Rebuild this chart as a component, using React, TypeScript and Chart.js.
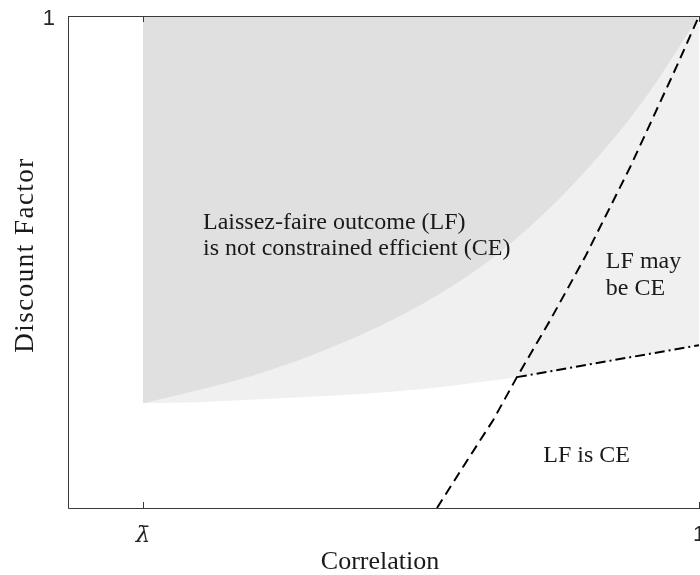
import React, { useEffect, useRef } from "react";
import { Chart, registerables } from "chart.js";

Chart.register(...registerables);

// ---- data (normalised axis units: lambda-bar = 0.2, right end = 1) ----
const LAMBDA_BAR = 0.2;
const X_TICKS = [LAMBDA_BAR, 1];
const X_TICK_LABELS = ["λ̄", "1"];
const Y_TICKS = [1];
const Y_TICK_LABELS = ["1"];

// upper boundary of the dark region (LF not CE)
const darkX = [0.2, 0.28, 0.36, 0.44, 0.52, 0.6, 0.68, 0.76, 0.84, 0.92, 1.0];
const darkY = [0.213, 0.24, 0.27, 0.309, 0.356, 0.413, 0.484, 0.576, 0.69, 0.828, 1.0];

// lower boundary of the light region (before kink)
const lightX = [0.2, 0.282, 0.354, 0.469, 0.57, 0.642, 0.685, 0.738];
const lightY = [0.213, 0.215, 0.22, 0.228, 0.238, 0.248, 0.256, 0.266];

// dash-dot boundary after kink
const dashDotX = [0.738, 1.0];
const dashDotY = [0.266, 0.331];

// dashed curve
const dashX = [0.623, 0.663, 0.704, 0.738, 0.786, 0.836, 0.901, 0.968, 1.0];
const dashY = [0.0, 0.089, 0.179, 0.266, 0.382, 0.51, 0.693, 0.898, 1.0];

const ANNOTATIONS = [
  { text: "Laissez-faire outcome (LF)", x: 0.2863, y: 0.567 },
  { text: "is not constrained efficient (CE)", x: 0.2863, y: 0.514 },
  { text: "LF may", x: 0.866, y: 0.488 },
  { text: "be CE", x: 0.866, y: 0.433 },
  { text: "LF is CE", x: 0.776, y: 0.0935 },
];

const X_TITLE = "Correlation";
const Y_TITLE = "Discount Factor";

const zip = (xs: number[], ys: number[]) => xs.map((x, i) => ({ x, y: ys[i] }));

const AXIS_COLOR = "#3a3a3a";
const TEXT_COLOR = "#1a1a1a";

const overlay = {
  id: "overlay",
  afterDatasetsDraw(chart: any) {
    const { ctx, chartArea: a, scales } = chart;
    const x = scales.x;
    const y = scales.y;
    ctx.save();
    // annotations
    ctx.fillStyle = TEXT_COLOR;
    ctx.font = "24px 'Liberation Serif'";
    ctx.textBaseline = "alphabetic";
    ctx.textAlign = "left";
    for (const an of ANNOTATIONS) {
      ctx.fillText(an.text, x.getPixelForValue(an.x), y.getPixelForValue(an.y));
    }
    // box
    ctx.strokeStyle = AXIS_COLOR;
    ctx.lineWidth = 1;
    ctx.beginPath();
    ctx.rect(Math.round(a.left) + 0.5, Math.round(a.top) + 0.5, Math.round(a.right - a.left), Math.round(a.bottom - a.top));
    ctx.stroke();
    const TL = 6;
    ctx.beginPath();
    for (const v of X_TICKS) {
      const px = Math.round(x.getPixelForValue(v)) + 0.5;
      ctx.moveTo(px, a.bottom);
      ctx.lineTo(px, a.bottom - TL);
      ctx.moveTo(px, a.top);
      ctx.lineTo(px, a.top + TL);
    }
    for (const v of Y_TICKS) {
      const py = Math.round(y.getPixelForValue(v)) + 0.5;
      ctx.moveTo(a.left, py);
      ctx.lineTo(a.left + TL, py);
    }
    ctx.stroke();
    // axis titles
    ctx.fillStyle = TEXT_COLOR;
    ctx.font = "26px 'Liberation Serif'";
    ctx.textAlign = "center";
    ctx.textBaseline = "alphabetic";
    ctx.fillText(X_TITLE, 380, 569);
    ctx.translate(33, 255);
    ctx.rotate(-Math.PI / 2);
    ctx.font = "27px 'Liberation Serif'";
    try {
      (ctx as any).letterSpacing = "1.5px";
    } catch (e) {}
    ctx.fillText(Y_TITLE, 0, 0);
    ctx.restore();
  },
};

export default function App() {
  const ref = useRef<HTMLCanvasElement | null>(null);
  useEffect(() => {
    if (!ref.current) return;
    const chart = new Chart(ref.current, {
      type: "line",
      data: {
        datasets: [
          {
            label: "dashed",
            data: zip(dashX, dashY),
            borderColor: "#000",
            borderWidth: 2,
            borderDash: [10, 6],
            pointRadius: 0,
            fill: false,
            tension: 0,
          },
          {
            label: "dashdot",
            data: zip(dashDotX, dashDotY),
            borderColor: "#000",
            borderWidth: 2,
            borderDash: [10, 4, 2, 4],
            pointRadius: 0,
            fill: false,
          },
          {
            label: "dark",
            data: zip(darkX, darkY),
            borderWidth: 0,
            borderColor: "rgba(0,0,0,0)",
            backgroundColor: "#e0e0e0",
            pointRadius: 0,
            fill: "end",
            cubicInterpolationMode: "monotone",
          },
          {
            label: "light",
            data: zip([...lightX, ...dashDotX.slice(1)], [...lightY, ...dashDotY.slice(1)]),
            borderWidth: 0,
            borderColor: "rgba(0,0,0,0)",
            backgroundColor: "#f0f0f0",
            pointRadius: 0,
            fill: "end",
            cubicInterpolationMode: "monotone",
          },
        ],
      },
      options: {
        animation: false,
        responsive: false,
        events: [],
        layout: { padding: { top: 16, right: 37, left: 0, bottom: 0 } },
        plugins: { legend: { display: false }, tooltip: { enabled: false }, title: { display: false } },
        scales: {
          x: {
            type: "linear",
            min: 0.2 - 75 / 695,
            max: 1 + 4 / 695,
            grid: { display: false, drawTicks: false },
            border: { display: false },
            afterBuildTicks: (s: any) => {
              s.ticks = X_TICKS.map((v) => ({ value: v }));
            },
            afterFit: (s: any) => {
              s.height = 67;
              s.paddingLeft = 0;
              s.paddingRight = 0;
            },
            ticks: {
              padding: 14,
              maxRotation: 0,
              autoSkip: false,
              color: "#262626",
              font: (c: any) =>
                c.tick && c.tick.value === LAMBDA_BAR
                  ? { family: "'DejaVu Serif'", size: 23, style: "italic" }
                  : { family: "'Liberation Sans'", size: 22 },
              callback: (v: any) => {
                const i = X_TICKS.indexOf(Number(v));
                return i >= 0 ? X_TICK_LABELS[i] : "";
              },
            },
          },
          y: {
            type: "linear",
            min: 0,
            max: 1,
            grid: { display: false, drawTicks: false },
            border: { display: false },
            afterBuildTicks: (s: any) => {
              s.ticks = Y_TICKS.map((v) => ({ value: v }));
            },
            afterFit: (s: any) => {
              s.width = 68;
              s.paddingTop = 0;
              s.paddingBottom = 0;
            },
            ticks: {
              padding: 13,
              labelOffset: 3,
              color: "#262626",
              font: { family: "'Liberation Sans'", size: 22 },
              callback: (v: any) => {
                const i = Y_TICKS.indexOf(Number(v));
                return i >= 0 ? Y_TICK_LABELS[i] : "";
              },
            },
          },
        },
      },
      plugins: [overlay],
    });
    return () => chart.destroy();
  }, []);
  return (
    <div style={{ position: "absolute", left: 0, top: 0, width: 700, height: 575, overflow: "hidden", background: "#fff" }}>
      <canvas ref={ref} width={740} height={575} style={{ width: 740, height: 575, display: "block" }} />
    </div>
  );
}
